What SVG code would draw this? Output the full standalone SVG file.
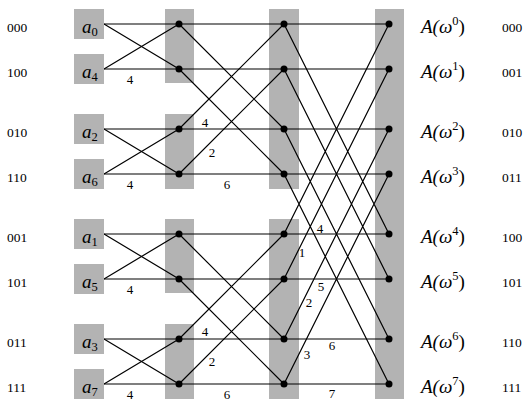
<svg xmlns="http://www.w3.org/2000/svg" width="529" height="414" viewBox="0 0 529 414">
<style>
.bg{fill:#b3b3b3}
.ln{stroke:#000;stroke-width:1.2;fill:none}
.dot{fill:#000}
text{font-family:"Liberation Serif","DejaVu Serif","Times New Roman",serif;fill:#000}
.t{font-size:13.5px}
.w{font-size:13px;text-anchor:middle}
.m{font-size:19px;font-style:italic}
.s{font-style:normal;font-size:12.5px}
.u{font-style:normal}
</style>
<rect width="529" height="414" fill="#fff"/>
<g id="columns">
<rect class="bg" x="165" y="9" width="29" height="74"/>
<rect class="bg" x="165" y="114" width="29" height="75"/>
<rect class="bg" x="165" y="219" width="29" height="74"/>
<rect class="bg" x="165" y="324" width="29" height="75"/>
<rect class="bg" x="269" y="9" width="30" height="180"/>
<rect class="bg" x="269" y="219" width="30" height="180"/>
<rect class="bg" x="375" y="9" width="29" height="390"/>
</g>
<g id="connectors" class="ln">
<path d="M104 24H389M104 69H389M104 129H389M104 174H389M104 234H389M104 279H389M104 339H389M104 384H389"/>
<path d="M104 24L179 69M104 69L179 24M104 129L179 174M104 174L179 129M104 234L179 279M104 279L179 234M104 339L179 384M104 384L179 339"/>
<path d="M179 24L284 129M179 69L284 174M179 129L284 24M179 174L284 69M179 234L284 339M179 279L284 384M179 339L284 234M179 384L284 279"/>
<path d="M284 24L389 234M284 69L389 279M284 129L389 339M284 174L389 384M284 234L389 24M284 279L389 69M284 339L389 129M284 384L389 174"/>
</g>
<g id="inputs">
<g id="in0"><rect class="bg" x="74" y="9" width="30" height="30"/><text class="m" x="82" y="33">a<tspan class="s" dy="3">0</tspan></text></g>
<g id="in4"><rect class="bg" x="74" y="54" width="30" height="30"/><text class="m" x="82" y="78">a<tspan class="s" dy="3">4</tspan></text></g>
<g id="in2"><rect class="bg" x="74" y="114" width="30" height="30"/><text class="m" x="82" y="138">a<tspan class="s" dy="3">2</tspan></text></g>
<g id="in6"><rect class="bg" x="74" y="159" width="30" height="30"/><text class="m" x="82" y="183">a<tspan class="s" dy="3">6</tspan></text></g>
<g id="in1"><rect class="bg" x="74" y="219" width="30" height="30"/><text class="m" x="82" y="243">a<tspan class="s" dy="3">1</tspan></text></g>
<g id="in5"><rect class="bg" x="74" y="264" width="30" height="30"/><text class="m" x="82" y="288">a<tspan class="s" dy="3">5</tspan></text></g>
<g id="in3"><rect class="bg" x="74" y="324" width="30" height="30"/><text class="m" x="82" y="348">a<tspan class="s" dy="3">3</tspan></text></g>
<g id="in7"><rect class="bg" x="74" y="369" width="30" height="30"/><text class="m" x="82" y="393">a<tspan class="s" dy="3">7</tspan></text></g>
</g>
<g id="stage1">
<circle id="n1_0" class="dot" cx="179" cy="24" r="3.5"/><circle id="n1_1" class="dot" cx="179" cy="69" r="3.5"/>
<circle id="n1_2" class="dot" cx="179" cy="129" r="3.5"/><circle id="n1_3" class="dot" cx="179" cy="174" r="3.5"/>
<circle id="n1_4" class="dot" cx="179" cy="234" r="3.5"/><circle id="n1_5" class="dot" cx="179" cy="279" r="3.5"/>
<circle id="n1_6" class="dot" cx="179" cy="339" r="3.5"/><circle id="n1_7" class="dot" cx="179" cy="384" r="3.5"/>
</g>
<g id="stage2">
<circle id="n2_0" class="dot" cx="284" cy="24" r="3.5"/><circle id="n2_1" class="dot" cx="284" cy="69" r="3.5"/>
<circle id="n2_2" class="dot" cx="284" cy="129" r="3.5"/><circle id="n2_3" class="dot" cx="284" cy="174" r="3.5"/>
<circle id="n2_4" class="dot" cx="284" cy="234" r="3.5"/><circle id="n2_5" class="dot" cx="284" cy="279" r="3.5"/>
<circle id="n2_6" class="dot" cx="284" cy="339" r="3.5"/><circle id="n2_7" class="dot" cx="284" cy="384" r="3.5"/>
</g>
<g id="stage3">
<circle id="n3_0" class="dot" cx="389" cy="24" r="3.5"/><circle id="n3_1" class="dot" cx="389" cy="69" r="3.5"/>
<circle id="n3_2" class="dot" cx="389" cy="129" r="3.5"/><circle id="n3_3" class="dot" cx="389" cy="174" r="3.5"/>
<circle id="n3_4" class="dot" cx="389" cy="234" r="3.5"/><circle id="n3_5" class="dot" cx="389" cy="279" r="3.5"/>
<circle id="n3_6" class="dot" cx="389" cy="339" r="3.5"/><circle id="n3_7" class="dot" cx="389" cy="384" r="3.5"/>
</g>
<g id="weights">
<text class="w" x="130" y="84">4</text>
<text class="w" x="130" y="189">4</text>
<text class="w" x="130" y="294">4</text>
<text class="w" x="130" y="399">4</text>
<text class="w" x="205" y="127">4</text>
<text class="w" x="212" y="157">2</text>
<text class="w" x="227" y="189">6</text>
<text class="w" x="205" y="336">4</text>
<text class="w" x="212" y="366">2</text>
<text class="w" x="227" y="399">6</text>
<text class="w" x="320" y="233">4</text>
<text class="w" x="302" y="257">1</text>
<text class="w" x="321" y="291">5</text>
<text class="w" x="309" y="307">2</text>
<text class="w" x="332" y="350">6</text>
<text class="w" x="307" y="359">3</text>
<text class="w" x="332" y="398">7</text>
</g>
<g id="leftbits">
<text class="t" x="7" y="32">000</text><text class="t" x="7" y="77">100</text>
<text class="t" x="7" y="137">010</text><text class="t" x="7" y="182">110</text>
<text class="t" x="7" y="242">001</text><text class="t" x="7" y="287">101</text>
<text class="t" x="7" y="347">011</text><text class="t" x="7" y="392">111</text>
</g>
<g id="outputs">
<text class="m" x="421" y="33">A(ω<tspan class="s" dy="-8">0</tspan><tspan class="u" dy="8">)</tspan></text>
<text class="m" x="421" y="78">A(ω<tspan class="s" dy="-8">1</tspan><tspan class="u" dy="8">)</tspan></text>
<text class="m" x="421" y="138">A(ω<tspan class="s" dy="-8">2</tspan><tspan class="u" dy="8">)</tspan></text>
<text class="m" x="421" y="183">A(ω<tspan class="s" dy="-8">3</tspan><tspan class="u" dy="8">)</tspan></text>
<text class="m" x="421" y="243">A(ω<tspan class="s" dy="-8">4</tspan><tspan class="u" dy="8">)</tspan></text>
<text class="m" x="421" y="288">A(ω<tspan class="s" dy="-8">5</tspan><tspan class="u" dy="8">)</tspan></text>
<text class="m" x="421" y="348">A(ω<tspan class="s" dy="-8">6</tspan><tspan class="u" dy="8">)</tspan></text>
<text class="m" x="421" y="393">A(ω<tspan class="s" dy="-8">7</tspan><tspan class="u" dy="8">)</tspan></text>
</g>
<g id="rightbits">
<text class="t" x="502" y="32">000</text><text class="t" x="502" y="77">001</text>
<text class="t" x="502" y="137">010</text><text class="t" x="502" y="182">011</text>
<text class="t" x="502" y="242">100</text><text class="t" x="502" y="287">101</text>
<text class="t" x="502" y="347">110</text><text class="t" x="502" y="392">111</text>
</g>
</svg>
